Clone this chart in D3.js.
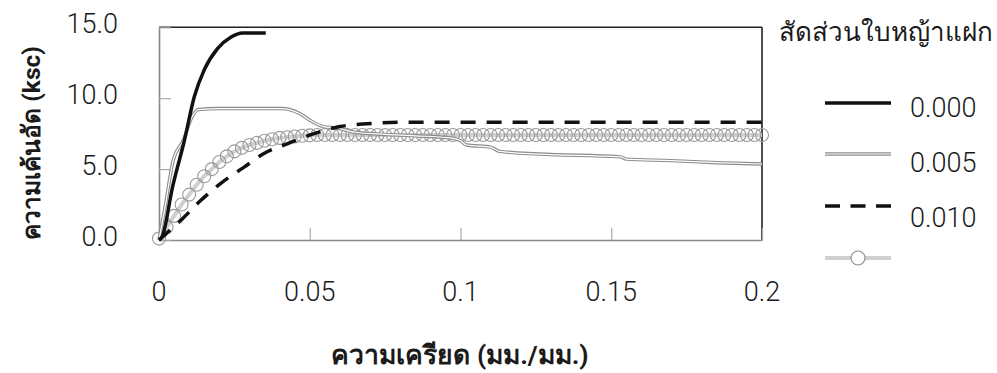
<!DOCTYPE html>
<html>
<head>
<meta charset="utf-8">
<script src="https://cdn.jsdelivr.net/npm/d3@7"></script>
<style>
    body { margin: 0; background: #fff; }
    #chart { width: 997px; height: 373px; }
    text { font-family: Roboto, "Noto Sans", "DejaVu Sans", sans-serif; fill: #1a1a1a; }
    .tick-label { font-size: 27px; font-weight: 300; }
    .axis-title { font-weight: bold; }
</style>
</head>
<body>
<div id="chart"></div>
<script>
// ratio labels (legend)
const legendTitle = 'สัดส่วนใบหญ้าแฝก';
const ratios = ['0.000', '0.005', '0.010', ''];

// tick labels
const xTicks = [0, 0.05, 0.1, 0.15, 0.2];
const xTickLabels = ['0', '0.05', '0.1', '0.15', '0.2'];
const yTicks = [0, 5, 10, 15];
const yTickLabels = ['0.0', '5.0', '10.0', '15.0'];

// ratio 0.000
const strain0 = [0, 0.001, 0.0045, 0.0084, 0.0117, 0.015, 0.0194, 0.0238, 0.0277, 0.0354];
const stress0 = [0, 0.2, 3.75, 7.0, 10.1, 12.0, 13.5, 14.3, 14.6, 14.6];

// ratio 0.005
const strain5 = [0, 0.002, 0.0047, 0.008, 0.011, 0.013, 0.02, 0.03, 0.0404, 0.0468, 0.05, 0.0545, 0.059,
    0.065, 0.075, 0.085, 0.0966, 0.0998, 0.102, 0.11, 0.113, 0.126, 0.153, 0.155, 0.17, 0.185, 0.2];
const stress5 = [0, 2.3, 5.6, 7.0, 8.7, 9.2, 9.27, 9.27, 9.27, 8.9, 8.45, 8.0, 7.9,
    7.6, 7.45, 7.35, 7.2, 7.04, 6.7, 6.55, 6.25, 6.06, 5.86, 5.7, 5.6, 5.45, 5.36];

// ratio 0.010
const strain10 = [0, 0.0073, 0.0139, 0.0205, 0.028, 0.0348, 0.0427, 0.0514, 0.06, 0.069, 0.08, 0.1, 0.15, 0.2];
const stress10 = [0, 1.4, 2.8, 4.0, 5.1, 6.1, 6.8, 7.5, 8.0, 8.2, 8.3, 8.3, 8.3, 8.3];

// unlabelled series (circles)
const strainC = [0, 0.0025, 0.005, 0.0075, 0.01, 0.0125, 0.015, 0.0175, 0.02, 0.0225,
    0.025, 0.0275, 0.03, 0.0325, 0.035, 0.0375, 0.04, 0.0425, 0.045, 0.0475,
    0.05, 0.0525, 0.055, 0.0575, 0.06, 0.0625, 0.065, 0.0675, 0.07, 0.0725,
    0.075, 0.0775, 0.08, 0.0825, 0.085, 0.0875, 0.09, 0.0925, 0.095, 0.0975,
    0.1, 0.1025, 0.105, 0.1075, 0.11, 0.1125, 0.115, 0.1175, 0.12, 0.1225,
    0.125, 0.1275, 0.13, 0.1325, 0.135, 0.1375, 0.14, 0.1425, 0.145, 0.1475,
    0.15, 0.1525, 0.155, 0.1575, 0.16, 0.1625, 0.165, 0.1675, 0.17, 0.1725,
    0.175, 0.1775, 0.18, 0.1825, 0.185, 0.1875, 0.19, 0.1925, 0.195, 0.1975, 0.2];
const stressC = [0.1, 0.9, 1.7, 2.5, 3.2, 3.9, 4.5, 5.0, 5.5, 5.9,
    6.25, 6.5, 6.7, 6.85, 7.0, 7.1, 7.2, 7.25, 7.3, 7.35,
    7.38, 7.4, 7.4, 7.4, 7.4, 7.4, 7.4, 7.4, 7.4, 7.4,
    7.4, 7.4, 7.4, 7.4, 7.4, 7.4, 7.4, 7.4, 7.4, 7.4,
    7.4, 7.4, 7.4, 7.4, 7.4, 7.4, 7.4, 7.4, 7.4, 7.4,
    7.4, 7.4, 7.4, 7.4, 7.4, 7.4, 7.4, 7.4, 7.4, 7.4,
    7.4, 7.4, 7.4, 7.4, 7.4, 7.4, 7.4, 7.4, 7.4, 7.4,
    7.4, 7.4, 7.4, 7.4, 7.4, 7.4, 7.4, 7.4, 7.4, 7.4, 7.4];

const pairs = (xs, ys) => xs.map((x, i) => ({ x: x, y: ys[i] }));

class stressChart {

    constructor(opts) {
        this.element = opts.element;
        this.draw();
    }

    draw() {
        this.width = 997;
        this.height = 373;
        // plot box
        this.box = { left: 159, right: 762, top: 27.3, bottom: 240 };

        this.element.innerHTML = '';
        this.svg = d3.select(this.element).append('svg')
            .attr('width', this.width)
            .attr('height', this.height);

        this.createScales();
        this.addAxes();
        this.addLines();
        this.addLegend();
    }

    createScales() {
        const b = this.box;
        this.xScale = d3.scaleLinear().domain([0, 0.2]).range([b.left, b.right]);
        this.yScale = d3.scaleLinear().domain([0, 15]).range([b.bottom, b.top]);
    }

    addAxes() {
        const b = this.box;
        const svg = this.svg;

        // top and right borders are dark
        svg.append('line')
            .attr('x1', b.left).attr('x2', b.right).attr('y1', b.top).attr('y2', b.top)
            .attr('stroke', '#222').attr('stroke-width', 1.6);
        svg.append('line')
            .attr('x1', b.right).attr('x2', b.right).attr('y1', b.top).attr('y2', b.bottom)
            .attr('stroke', '#222').attr('stroke-width', 1.6);

        // inward ticks, no labels from the axis itself
        const xAxis = d3.axisBottom(this.xScale)
            .tickValues(xTicks)
            .tickSizeInner(-12)
            .tickSizeOuter(0)
            .tickFormat('');
        const gx = svg.append('g')
            .attr('class', 'x axis')
            .attr('transform', `translate(0,${b.bottom})`)
            .call(xAxis);
        gx.select('.domain').attr('stroke', '#888').attr('stroke-width', 1.6);
        gx.selectAll('.tick line').attr('stroke', '#aaa').attr('stroke-width', 1.2);

        const yAxis = d3.axisLeft(this.yScale)
            .tickValues(yTicks)
            .tickSizeInner(-12)
            .tickSizeOuter(0)
            .tickFormat('');
        const gy = svg.append('g')
            .attr('class', 'y axis')
            .attr('transform', `translate(${b.left},0)`)
            .call(yAxis);
        gy.select('.domain').attr('stroke', '#888').attr('stroke-width', 1.6);
        gy.selectAll('.tick line').attr('stroke', '#aaa').attr('stroke-width', 1.2);

        // tick labels
        svg.append('g').selectAll('text')
            .data(xTicks)
            .join('text')
            .attr('class', 'tick-label')
            .attr('x', d => this.xScale(d))
            .attr('y', 301)
            .attr('text-anchor', 'middle')
            .text((d, i) => xTickLabels[i]);

        svg.append('g').selectAll('text')
            .data(yTicks)
            .join('text')
            .attr('class', 'tick-label')
            .attr('x', 118)
            .attr('y', d => this.yScale(d) + 6)
            .attr('text-anchor', 'end')
            .text((d, i) => yTickLabels[i]);

        // axis titles
        svg.append('text')
            .attr('class', 'axis-title')
            .attr('x', 460)
            .attr('y', 364)
            .attr('text-anchor', 'middle')
            .style('font-size', '26.5px')
            .text('ความเครียด (มม./มม.)');

        svg.append('text')
            .attr('class', 'axis-title')
            .attr('transform', 'translate(40,143) rotate(-90)')
            .attr('text-anchor', 'middle')
            .style('font-size', '24.5px')
            .text('ความเค้นอัด (ksc)');
    }

    addLines() {
        const svg = this.svg;
        const line = d3.line()
            .x(d => this.xScale(d.x))
            .y(d => this.yScale(d.y))
            .curve(d3.curveMonotoneX);

        // circle series: light grey line + open markers
        const dC = pairs(strainC, stressC);
        svg.append('path')
            .datum(dC)
            .attr('d', line)
            .attr('fill', 'none')
            .attr('stroke', '#cfcfcf')
            .attr('stroke-width', 4);
        svg.append('g').selectAll('circle')
            .data(dC)
            .join('circle')
            .attr('cx', d => this.xScale(d.x))
            .attr('cy', d => this.yScale(d.y))
            .attr('r', 6.5)
            .attr('fill', 'none')
            .attr('stroke', '#9a9a9a')
            .attr('stroke-width', 1.1);

        // 0.005: double line (grey with white core)
        const d5 = pairs(strain5, stress5);
        svg.append('path')
            .datum(d5)
            .attr('d', line)
            .attr('fill', 'none')
            .attr('stroke', '#8c8c8c')
            .attr('stroke-width', 3.4);
        svg.append('path')
            .datum(d5)
            .attr('d', line)
            .attr('fill', 'none')
            .attr('stroke', '#fff')
            .attr('stroke-width', 1.2);

        // 0.010: black dashed
        svg.append('path')
            .datum(pairs(strain10, stress10))
            .attr('d', line)
            .attr('fill', 'none')
            .attr('stroke', '#111')
            .attr('stroke-width', 3.5)
            .attr('stroke-dasharray', '15 11');

        // 0.000: black solid
        svg.append('path')
            .datum(pairs(strain0, stress0))
            .attr('d', line)
            .attr('fill', 'none')
            .attr('stroke', '#111')
            .attr('stroke-width', 3.5);
    }

    addLegend() {
        const svg = this.svg;
        svg.append('text')
            .attr('x', 779)
            .attr('y', 41)
            .style('font-size', '26px')
            .style('font-weight', 300)
            .text(legendTitle);

        const rowY = [103, 154, 206, 258];
        const x1 = 825, x2 = 891;
        const g = svg.append('g').attr('class', 'legend');

        // 0.000
        g.append('line').attr('x1', x1).attr('x2', x2).attr('y1', rowY[0]).attr('y2', rowY[0])
            .attr('stroke', '#111').attr('stroke-width', 3.5);
        // 0.005
        g.append('line').attr('x1', x1).attr('x2', x2).attr('y1', rowY[1]).attr('y2', rowY[1])
            .attr('stroke', '#8c8c8c').attr('stroke-width', 3.4);
        g.append('line').attr('x1', x1).attr('x2', x2).attr('y1', rowY[1]).attr('y2', rowY[1])
            .attr('stroke', '#fff').attr('stroke-width', 1.2);
        // 0.010
        g.append('line').attr('x1', x1).attr('x2', x2).attr('y1', rowY[2]).attr('y2', rowY[2])
            .attr('stroke', '#111').attr('stroke-width', 3.5).attr('stroke-dasharray', '15 10.5');
        // circles
        g.append('line').attr('x1', x1).attr('x2', x2).attr('y1', rowY[3]).attr('y2', rowY[3])
            .attr('stroke', '#cfcfcf').attr('stroke-width', 4);
        g.append('circle').attr('cx', (x1 + x2) / 2).attr('cy', rowY[3]).attr('r', 7)
            .attr('fill', '#fff').attr('stroke', '#8c8c8c').attr('stroke-width', 1.1);

        const textY = [117, 172, 227, 280];
        g.selectAll('text.ratio')
            .data(ratios)
            .join('text')
            .attr('class', 'ratio tick-label')
            .attr('x', 910)
            .attr('y', (d, i) => textY[i])
            .text(d => d);
    }
}

new stressChart({ element: document.getElementById('chart') });
</script>
</body>
</html>
